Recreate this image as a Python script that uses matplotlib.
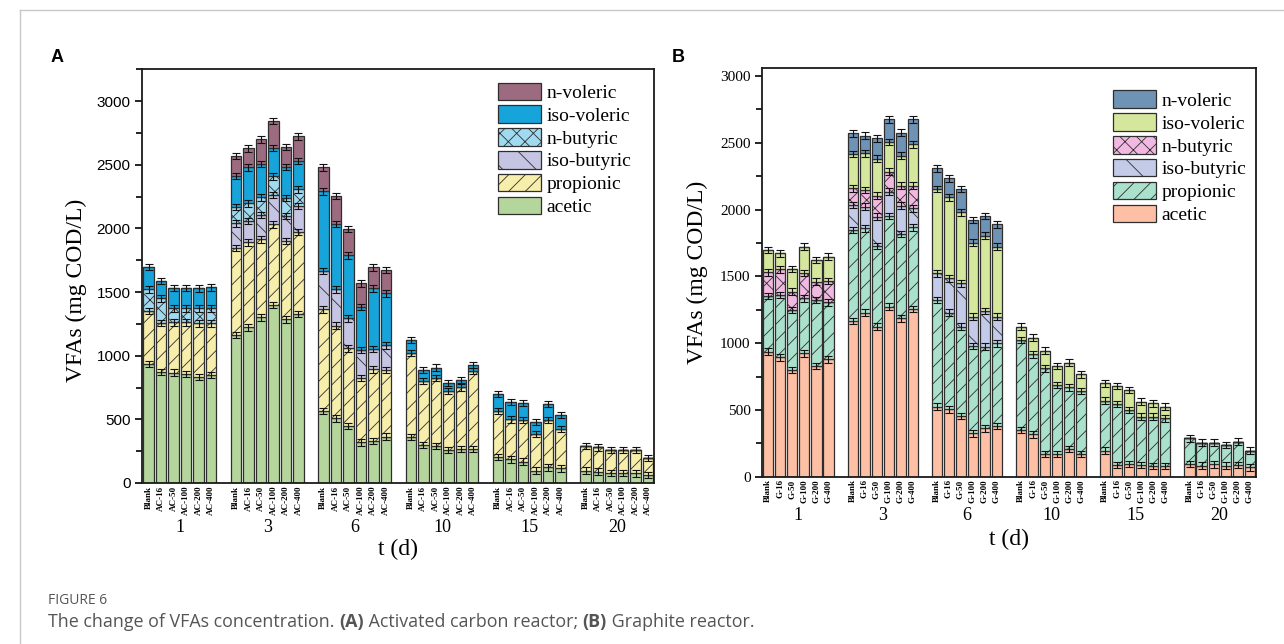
import numpy as np
import matplotlib
matplotlib.use('Agg')
import matplotlib.pyplot as plt
from matplotlib.lines import Line2D
from matplotlib.ticker import MultipleLocator

# ---------------- data ----------------
days = ['1', '3', '6', '10', '15', '20']
conds_A = ['Blank', 'AC-16', 'AC-50', 'AC-100', 'AC-200', 'AC-400']
conds_B = ['Blank', 'G-16', 'G-50', 'G-100', 'G-200', 'G-400']
species = ['acetic', 'propionic', 'iso-butyric', 'n-butyric', 'iso-voleric', 'n-voleric']

# Panel A (activated carbon), 6 conditions per day, days 1,3,6,10,15,20
A_acetic = [934, 874, 868, 856, 835, 849,
            1162, 1223, 1301, 1398, 1285, 1327,
            568, 508, 448, 319, 330, 364,
            359, 298, 293, 259, 267, 268,
            202, 186, 168, 97, 123, 115,
            97, 89, 81, 81, 76, 63]
A_propionic = [417, 385, 394, 406, 419, 405,
               686, 667, 613, 634, 616, 644,
               796, 728, 610, 508, 563, 524,
               664, 503, 534, 464, 484, 612,
               366, 314, 327, 288, 372, 307,
               194, 191, 178, 178, 183, 131]
A_isobutyric = [0, 0, 0, 0, 0, 0,
                191, 170, 191, 230, 198, 207,
                303, 285, 235, 218, 160, 193,
                0, 0, 0, 0, 0, 0,
                0, 0, 0, 0, 0, 0,
                0, 0, 0, 0, 0, 0]
A_nbutyric = [170, 191, 110, 110, 118, 118,
              131, 136, 139, 146, 142, 128,
              0, 0, 0, 0, 0, 0,
              0, 0, 0, 0, 0, 0,
              0, 0, 0, 0, 0, 0,
              0, 0, 0, 0, 0, 0]
A_isovoleric = [178, 136, 162, 162, 157, 165,
                244, 283, 264, 226, 243, 225,
                624, 513, 495, 340, 476, 409,
                100, 86, 79, 65, 58, 47,
                131, 136, 131, 92, 125, 112,
                0, 0, 0, 0, 0, 0]
A_nvoleric = [0, 0, 0, 0, 0, 0,
              157, 149, 191, 209, 157, 192,
              188, 223, 207, 183, 165, 183,
              0, 0, 0, 0, 0, 0,
              0, 0, 0, 0, 0, 0,
              0, 0, 0, 0, 0, 0]

# Panel B (graphite)
B_acetic = [936, 894, 799, 924, 829, 879,
            1166, 1228, 1123, 1273, 1186, 1255,
            524, 504, 454, 325, 362, 380,
            350, 317, 170, 170, 207, 170,
            195, 88, 95, 88, 80, 80,
            95, 82, 92, 82, 88, 70]
B_propionic = [417, 466, 449, 411, 494, 427,
               681, 632, 604, 679, 631, 612,
               799, 724, 669, 654, 612, 619,
               673, 599, 641, 516, 462, 472,
               374, 456, 404, 361, 369, 357,
               192, 173, 163, 155, 174, 125]
B_isobutyric = [0, 0, 0, 0, 0, 0,
                187, 161, 220, 182, 212, 142,
                200, 257, 325, 219, 267, 199,
                0, 0, 0, 0, 0, 0,
                0, 0, 0, 0, 0, 0,
                0, 0, 0, 0, 0, 0]
B_nbutyric = [177, 193, 137, 191, 137, 159,
              125, 125, 157, 150, 150, 170,
              0, 0, 0, 0, 0, 0,
              0, 0, 0, 0, 0, 0,
              0, 0, 0, 0, 0, 0,
              0, 0, 0, 0, 0, 0]
B_isovoleric = [167, 119, 170, 196, 162, 182,
                257, 275, 277, 222, 224, 309,
                631, 607, 531, 554, 563, 524,
                100, 125, 132, 143, 185, 124,
                130, 135, 150, 113, 100, 87,
                0, 0, 0, 0, 0, 0]
B_nvoleric = [0, 0, 0, 0, 0, 0,
              155, 132, 152, 170, 173, 188,
              155, 142, 175, 170, 148, 167,
              0, 0, 0, 0, 0, 0,
              0, 0, 0, 0, 0, 0,
              0, 0, 0, 0, 0, 0]

ERR = 25  # approximate error bar half-width (mg COD/L)

# ---------------- styles ----------------
colors_A = ['#B4D69C', '#F6EEAA', '#C6C4E3', '#9FDAF0', '#17A4DA', '#9C6B80']
colors_B = ['#FDC0A5', '#A9E1CD', '#C3CBE8', '#F1B9E1', '#D5E79C', '#6F93B5']
hatches = [None, '//', '\\', 'xx', None, None]

plt.rcParams['hatch.linewidth'] = 0.6
serif = ['Liberation Serif', 'DejaVu Serif']
sans = ['Liberation Sans', 'DejaVu Sans']

W, H = 1284, 644
fig = plt.figure(figsize=(W / 100, H / 100), dpi=100)


def fx(px):
    return px / W


def fy(py):
    return 1 - py / H


axA = fig.add_axes([fx(141.7), fy(483), fx(654.3 - 141.7), (483 - 69.3) / H])
axB = fig.add_axes([fx(761.7), fy(476.7), fx(1255.7 - 761.7), (476.7 - 68) / H])


def draw_panel(ax, series, colors, conds, ylim_top, tick_family, tick_fs):
    n_days = len(days)
    x = np.array([g * 7 + i for g in range(n_days) for i in range(len(conds))], dtype=float)
    bottom = np.zeros(len(x))
    handles = []
    for vals, col, hat, name in zip(series, colors, hatches, species):
        v = np.array(vals, dtype=float)
        bars = ax.bar(x, v, width=0.84, bottom=bottom, color=col, edgecolor='#2e2e2e',
                      linewidth=0.9, hatch=hat, label=name, zorder=2)
        top = bottom + v
        mask = v > 0
        ax.errorbar(x[mask], top[mask], yerr=ERR, fmt='none', ecolor='#111111',
                    elinewidth=0.8, capsize=3, capthick=0.8, zorder=3)
        bottom = top
        handles.append(bars)
    ax.set_xlim(-0.55, 40.5)
    ax.set_ylim(0, ylim_top)
    ax.set_xticks(x)
    ax.set_xticklabels(conds * n_days, rotation=90, fontsize=tick_fs, fontweight='bold',
                       family=serif)
    ax.tick_params(axis='x', length=0, pad=2)
    ax.yaxis.set_major_locator(MultipleLocator(500))
    ax.yaxis.set_minor_locator(MultipleLocator(250))
    ax.tick_params(axis='y', which='major', direction='out', length=5, width=1.2,
                   labelsize=11, pad=3)
    ax.tick_params(axis='y', which='minor', direction='out', length=4, width=1.2)
    for lab in ax.get_yticklabels():
        lab.set_family(tick_family)
    for sp in ax.spines.values():
        sp.set_linewidth(1.3)
        sp.set_color('#1a1a1a')
    return handles


hA = draw_panel(axA, [A_acetic, A_propionic, A_isobutyric, A_nbutyric, A_isovoleric, A_nvoleric],
                colors_A, conds_A, 3250, sans, 6.5)
hB = draw_panel(axB, [B_acetic, B_propionic, B_isobutyric, B_nbutyric, B_isovoleric, B_nvoleric],
                colors_B, conds_B, 3060, serif, 6.5)

# group labels and x labels
for ax, y_grp, y_xl in [(axA, 527, 549), (axB, 516, 539)]:
    for g, d in enumerate(days):
        xc = g * 7 + 2.5
        disp = ax.transData.transform((xc, 0))
        fig.text(disp[0] / W, fy(y_grp), d, ha='center', va='center', fontsize=13, family=serif)
    cx = (ax.get_position().x0 + ax.get_position().x1) / 2
    fig.text(cx, fy(y_xl), 't (d)', ha='center', va='center', fontsize=17, family=serif)

fig.text(fx(76), fy(290), 'VFAs (mg COD/L)', rotation=90, ha='center', va='center',
         fontsize=17, family=serif)
fig.text(fx(697), fy(272), 'VFAs (mg COD/L)', rotation=90, ha='center', va='center',
         fontsize=17, family=serif)

# legends (top entry = n-voleric)
for ax, hs, anchor in [(axA, hA, (0.695, 0.968)), (axB, hB, (0.711, 0.945))]:
    ax.legend(hs[::-1], species[::-1], loc='upper left', bbox_to_anchor=anchor,
              frameon=False, prop={'family': serif, 'size': 14}, handlelength=2.2,
              handleheight=1.0, labelspacing=0.18, handletextpad=0.3, borderpad=0,
              borderaxespad=0)

# panel letters
fig.text(fx(57), fy(58), 'A', ha='center', va='center', fontsize=13, fontweight='bold', family=sans)
fig.text(fx(678), fy(58), 'B', ha='center', va='center', fontsize=13, fontweight='bold', family=sans)

# figure frame lines
fig.add_artist(Line2D([fx(20), 1], [fy(10), fy(10)], color='#c8c8c8', lw=1))
fig.add_artist(Line2D([fx(20), fx(20)], [fy(10), 0], color='#c8c8c8', lw=1))

# caption
cap_font = ['Open Sans', 'DejaVu Sans']
fig.text(fx(48), fy(600), 'FIGURE 6', ha='left', va='center', fontsize=10, color='#555555',
         family=cap_font)
pieces = [('The change of VFAs concentration. ', 'normal'), ('(A)', 'bold'),
          (' Activated carbon reactor; ', 'normal'), ('(B)', 'bold'),
          (' Graphite reactor.', 'normal')]
fig.canvas.draw()
renderer = fig.canvas.get_renderer()
xpos = 48
for txt, wt in pieces:
    t = fig.text(fx(xpos), fy(622), txt, ha='left', va='center', fontsize=12.85, color='#555555',
                 family=cap_font, fontweight=wt)
    bb = t.get_window_extent(renderer=renderer)
    xpos += bb.width

fig.savefig('out.png', dpi=100)
